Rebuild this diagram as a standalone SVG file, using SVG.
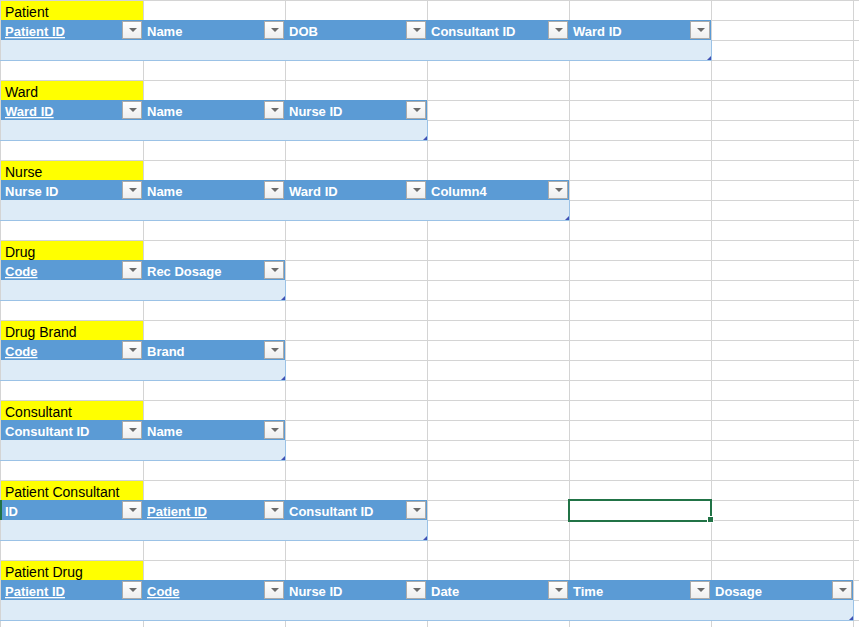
<svg xmlns="http://www.w3.org/2000/svg" width="859" height="627" viewBox="0 0 859 627">
<defs>
<style>
.grid{stroke:#D4D4D4;stroke-width:1;fill:none}
.title{fill:#FFFF00}
.tt{font-family:"Liberation Sans",Arial,sans-serif;font-size:14px;fill:#000}
.hdr{fill:#5B9BD5}
.ht{font-family:"Liberation Sans",Arial,sans-serif;font-size:13px;font-weight:bold;fill:#FFFFFF}
.u{text-decoration:underline}
.data{fill:#DDEBF7}
.bd{stroke:#9BC2E6;stroke-width:1;fill:none}
.btn{fill:url(#bg);stroke:#ABABAB;stroke-width:1}
.tri{fill:#6A6A6A}
.rs{fill:#3F51B5}
</style>
<linearGradient id="bg" x1="0" y1="0" x2="0" y2="1">
<stop offset="0" stop-color="#FFFFFF"/>
<stop offset="1" stop-color="#EEEEEE"/>
</linearGradient>
<g id="dd">
<rect class="btn" x="-10.5" y="1.5" width="19" height="17"/>
<polygon class="tri" points="-4,8 4,8 0,12"/>
</g>
</defs>
<rect width="859" height="627" fill="#FFFFFF"/>
<g id="gridlines">
<path class="grid" d="M0.5 0V627M143.5 0V627M285.5 0V627M427.5 0V627M569.5 0V627M711.5 0V627M853.5 0V627"/>
<path class="grid" d="M0 0.5H859M0 20.5H859M0 40.5H859M0 60.5H859M0 80.5H859M0 100.5H859M0 120.5H859M0 140.5H859M0 160.5H859M0 180.5H859M0 200.5H859M0 220.5H859M0 240.5H859M0 260.5H859M0 280.5H859M0 300.5H859M0 320.5H859M0 340.5H859M0 360.5H859M0 380.5H859M0 400.5H859M0 420.5H859M0 440.5H859M0 460.5H859M0 480.5H859M0 500.5H859M0 520.5H859M0 540.5H859M0 560.5H859M0 580.5H859M0 600.5H859M0 620.5H859"/>
</g>

<g id="table-patient">
<rect class="title" x="1" y="1" width="142" height="19"/>
<text class="tt" x="5" y="16.5">Patient</text>
<rect class="hdr" x="1" y="20" width="710" height="20"/>
<rect class="data" x="1" y="40" width="710" height="20"/>
<path class="bd" d="M0 60.5H711.5V40"/>
<use href="#dd" x="133" y="20"/><use href="#dd" x="275" y="20"/><use href="#dd" x="417" y="20"/><use href="#dd" x="559" y="20"/><use href="#dd" x="701" y="20"/>
<text class="ht u" x="5" y="36">Patient ID</text>
<text class="ht" x="147" y="36">Name</text>
<text class="ht" x="289" y="36">DOB</text>
<text class="ht" x="431" y="36">Consultant ID</text>
<text class="ht" x="573" y="36">Ward ID</text>
<polygon class="rs" points="711,56 711,60 707,60"/>
</g>

<g id="table-ward">
<rect class="title" x="1" y="81" width="142" height="19"/>
<text class="tt" x="5" y="96.5">Ward</text>
<rect class="hdr" x="1" y="100" width="426" height="20"/>
<rect class="data" x="1" y="120" width="426" height="20"/>
<path class="bd" d="M0 140.5H427.5V120"/>
<use href="#dd" x="133" y="100"/><use href="#dd" x="275" y="100"/><use href="#dd" x="417" y="100"/>
<text class="ht u" x="5" y="116">Ward ID</text>
<text class="ht" x="147" y="116">Name</text>
<text class="ht" x="289" y="116">Nurse ID</text>
<polygon class="rs" points="427,136 427,140 423,140"/>
</g>

<g id="table-nurse">
<rect class="title" x="1" y="161" width="142" height="19"/>
<text class="tt" x="5" y="176.5">Nurse</text>
<rect class="hdr" x="1" y="180" width="568" height="20"/>
<rect class="data" x="1" y="200" width="568" height="20"/>
<path class="bd" d="M0 220.5H569.5V200"/>
<use href="#dd" x="133" y="180"/><use href="#dd" x="275" y="180"/><use href="#dd" x="417" y="180"/><use href="#dd" x="559" y="180"/>
<text class="ht" x="5" y="196">Nurse ID</text>
<text class="ht" x="147" y="196">Name</text>
<text class="ht" x="289" y="196">Ward ID</text>
<text class="ht" x="431" y="196">Column4</text>
<polygon class="rs" points="569,216 569,220 565,220"/>
</g>

<g id="table-drug">
<rect class="title" x="1" y="241" width="142" height="19"/>
<text class="tt" x="5" y="256.5">Drug</text>
<rect class="hdr" x="1" y="260" width="284" height="20"/>
<rect class="data" x="1" y="280" width="284" height="20"/>
<path class="bd" d="M0 300.5H285.5V280"/>
<use href="#dd" x="133" y="260"/><use href="#dd" x="275" y="260"/>
<text class="ht u" x="5" y="276">Code</text>
<text class="ht" x="147" y="276">Rec Dosage</text>
<polygon class="rs" points="285,296 285,300 281,300"/>
</g>

<g id="table-drug-brand">
<rect class="title" x="1" y="321" width="142" height="19"/>
<text class="tt" x="5" y="336.5">Drug Brand</text>
<rect class="hdr" x="1" y="340" width="284" height="20"/>
<rect class="data" x="1" y="360" width="284" height="20"/>
<path class="bd" d="M0 380.5H285.5V360"/>
<use href="#dd" x="133" y="340"/><use href="#dd" x="275" y="340"/>
<text class="ht u" x="5" y="356">Code</text>
<text class="ht" x="147" y="356">Brand</text>
<polygon class="rs" points="285,376 285,380 281,380"/>
</g>

<g id="table-consultant">
<rect class="title" x="1" y="401" width="142" height="19"/>
<text class="tt" x="5" y="416.5">Consultant</text>
<rect class="hdr" x="1" y="420" width="284" height="20"/>
<rect class="data" x="1" y="440" width="284" height="20"/>
<path class="bd" d="M0 460.5H285.5V440"/>
<use href="#dd" x="133" y="420"/><use href="#dd" x="275" y="420"/>
<text class="ht" x="5" y="436">Consultant ID</text>
<text class="ht" x="147" y="436">Name</text>
<polygon class="rs" points="285,456 285,460 281,460"/>
</g>

<g id="table-patient-consultant">
<rect class="title" x="1" y="481" width="142" height="19"/>
<text class="tt" x="5" y="496.5">Patient Consultant</text>
<rect class="hdr" x="1" y="500" width="426" height="20"/>
<rect class="data" x="1" y="520" width="426" height="20"/>
<path class="bd" d="M0 540.5H427.5V520"/>
<rect x="0" y="500" width="2" height="20" fill="#217346"/>
<use href="#dd" x="133" y="500"/><use href="#dd" x="275" y="500"/><use href="#dd" x="417" y="500"/>
<text class="ht" x="5" y="516">ID</text>
<text class="ht u" x="147" y="516">Patient ID</text>
<text class="ht" x="289" y="516">Consultant ID</text>
<polygon class="rs" points="427,536 427,540 423,540"/>
</g>

<g id="table-patient-drug">
<rect class="title" x="1" y="561" width="142" height="19"/>
<text class="tt" x="5" y="576.5">Patient Drug</text>
<rect class="hdr" x="1" y="580" width="852" height="20"/>
<rect class="data" x="1" y="600" width="852" height="20"/>
<path class="bd" d="M0 620.5H853.5V600"/>
<use href="#dd" x="133" y="580"/><use href="#dd" x="275" y="580"/><use href="#dd" x="417" y="580"/><use href="#dd" x="559" y="580"/><use href="#dd" x="701" y="580"/><use href="#dd" x="843" y="580"/>
<text class="ht u" x="5" y="596">Patient ID</text>
<text class="ht u" x="147" y="596">Code</text>
<text class="ht" x="289" y="596">Nurse ID</text>
<text class="ht" x="431" y="596">Date</text>
<text class="ht" x="573" y="596">Time</text>
<text class="ht" x="715" y="596">Dosage</text>
<polygon class="rs" points="853,616 853,620 849,620"/>
</g>

<g id="selected-cell">
<rect x="569" y="500" width="142" height="21" fill="none" stroke="#217346" stroke-width="2"/>
<rect x="707.5" y="516.5" width="6" height="6" fill="#217346" stroke="#FFFFFF" stroke-width="1"/>
</g>
<g id="connectors"/>
</svg>
